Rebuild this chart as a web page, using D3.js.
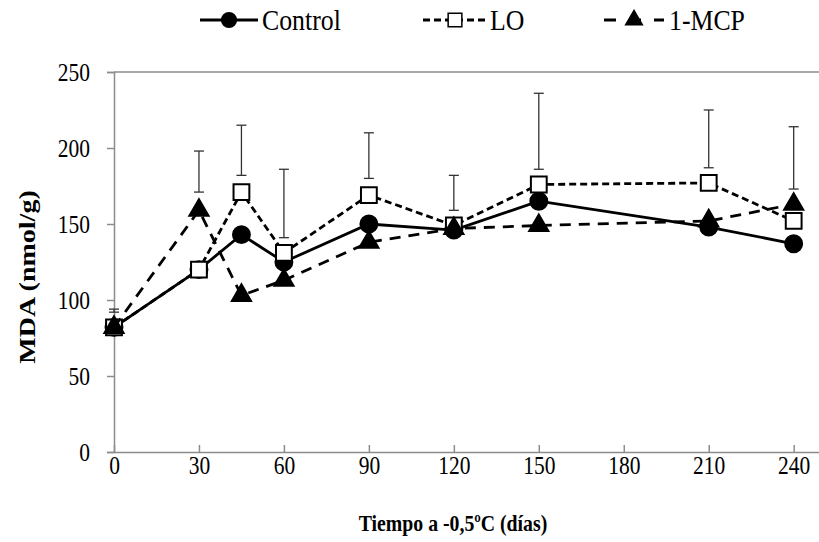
<!DOCTYPE html>
<html>
<head>
<meta charset="utf-8">
<script src="https://cdn.jsdelivr.net/npm/d3@7"></script>
<style>
  html, body { margin: 0; padding: 0; background: #fff; }
</style>
</head>
<body>
<svg id="chart" width="819" height="542"></svg>
<script>
// Storage days at -0.5 °C
const days = [0, 30, 45, 60, 90, 120, 150, 210, 240];
// MDA content (nmol/g) per treatment
const control = [82, 120, 143, 125, 150, 146, 165, 148, 137];
const lo      = [82, 120, 171, 131, 169, 149, 176, 177, 152];
const mcp     = [82, 159, 103, 113, 138, 147, 149, 152, 163];
// Error bar ranges drawn above the points
const errLow  = [92, 171, 182, 141, 180, 159, 186, 187, 173];
const errHigh = [94, 198, 215, 186, 210, 182, 236, 225, 214];
// Axis ticks
const xTicks = [0, 30, 60, 90, 120, 150, 180, 210, 240];
const yTicks = [0, 50, 100, 150, 200, 250];
const seriesNames = ["Control", "LO", "1-MCP"];

const FONT = '"Liberation Serif", "Times New Roman", Times, "DejaVu Serif", serif';
const NARROW = 0.86; // horizontal squeeze applied to the serif text

const svg = d3.select("#chart");
const plotLeft = 114, plotTop = 72, plotBottom = 452, plotRight = 822;

const x = d3.scaleLinear().domain([0, 250]).range([plotLeft, plotRight]);
const y = d3.scaleLinear().domain([0, 250]).range([plotBottom, plotTop]);

const axisColor = "#8c8c8c";

// Frame: top border line
svg.append("line")
  .attr("x1", plotLeft).attr("x2", plotRight)
  .attr("y1", plotTop).attr("y2", plotTop)
  .attr("stroke", axisColor).attr("stroke-width", 1.5);

// Y axis
const yAxis = svg.append("g")
  .attr("transform", `translate(${plotLeft},0)`)
  .call(d3.axisLeft(y).tickValues(yTicks).tickSize(7).tickPadding(0));
yAxis.select(".domain").attr("stroke", axisColor).attr("stroke-width", 1.5);
yAxis.selectAll(".tick line").attr("stroke", axisColor).attr("stroke-width", 1.5);
yAxis.selectAll(".tick text")
  .attr("x", null).attr("dy", "0.34em")
  .attr("transform", `translate(-24,0) scale(${NARROW},1)`)
  .attr("font-family", FONT).attr("font-size", 25).attr("fill", "#000");

// X axis (ticks point into the plot)
const xAxis = svg.append("g")
  .attr("transform", `translate(0,${plotBottom})`)
  .call(d3.axisBottom(x).tickValues(xTicks).tickSizeInner(-7).tickSizeOuter(0).tickPadding(0));
xAxis.select(".domain").attr("stroke", axisColor).attr("stroke-width", 1.5);
xAxis.selectAll(".tick line").attr("stroke", axisColor).attr("stroke-width", 1.5);
xAxis.selectAll(".tick text")
  .attr("y", null).attr("dy", null)
  .attr("transform", `translate(0,22) scale(${NARROW},1)`)
  .attr("font-family", FONT).attr("font-size", 25).attr("fill", "#000");

// Axis titles
svg.append("text")
  .attr("transform", `translate(453,531) scale(${NARROW},1)`)
  .attr("text-anchor", "middle")
  .attr("font-family", FONT).attr("font-size", 23).attr("font-weight", "bold")
  .text("Tiempo a -0,5ºC (días)");

svg.append("text")
  .attr("transform", `translate(35,277) rotate(-90) scale(1,${NARROW})`)
  .attr("text-anchor", "middle")
  .attr("font-family", FONT).attr("font-size", 28).attr("font-weight", "bold")
  .text("MDA (nmol/g)");

// Error bars
const capW = 5;
const eb = svg.append("g").attr("stroke", "#333").attr("stroke-width", 1.3);
days.forEach((d, i) => {
  const cx = x(d);
  eb.append("line").attr("x1", cx).attr("x2", cx).attr("y1", y(errLow[i])).attr("y2", y(errHigh[i]));
  eb.append("line").attr("x1", cx - capW).attr("x2", cx + capW).attr("y1", y(errLow[i])).attr("y2", y(errLow[i]));
  eb.append("line").attr("x1", cx - capW).attr("x2", cx + capW).attr("y1", y(errHigh[i])).attr("y2", y(errHigh[i]));
});

const line = d3.line().x(d => x(d[0])).y(d => y(d[1]));
const styles = [
  { values: control, dash: null, symbol: d3.symbolCircle, size: 225, fill: "#000" },
  { values: lo, dash: "7,4", symbol: d3.symbolSquare, size: 250, fill: "#fff" },
  { values: mcp, dash: "11,8", symbol: d3.symbolTriangle, size: 160, fill: "#000" }
];

styles.forEach(s => {
  const pts = days.map((d, i) => [d, s.values[i]]);
  const g = svg.append("g");
  g.append("path")
    .attr("d", line(pts))
    .attr("fill", "none")
    .attr("stroke", "#000")
    .attr("stroke-width", 2.8)
    .attr("stroke-dasharray", s.dash);
  g.selectAll("path.m").data(pts).join("path")
    .attr("class", "m")
    .attr("transform", p => `translate(${x(p[0])},${y(p[1])})`)
    .attr("d", d3.symbol().type(s.symbol).size(s.size))
    .attr("fill", s.fill)
    .attr("stroke", "#000")
    .attr("stroke-width", 2);
});

// Legend
const legendItems = [
  { x0: 200, x1: 258, tx: 262, dash: null },
  { x0: 423, x1: 487, tx: 490, dash: "7,4" },
  { x0: 604, x1: 664, tx: 669, dash: "12,13" }
];
legendItems.forEach((it, i) => {
  const s = styles[i];
  const ly = 20;
  const g = svg.append("g");
  g.append("line")
    .attr("x1", it.x0).attr("x2", it.x1).attr("y1", ly).attr("y2", ly)
    .attr("stroke", "#000").attr("stroke-width", 2.8)
    .attr("stroke-dasharray", it.dash);
  g.append("path")
    .attr("transform", `translate(${(it.x0 + it.x1) / 2},${ly})`)
    .attr("d", d3.symbol().type(s.symbol).size(s.size * 0.75))
    .attr("fill", s.fill).attr("stroke", "#000").attr("stroke-width", 1.5);
  g.append("text")
    .attr("transform", `translate(${it.tx},${ly + 10}) scale(${NARROW},1)`)
    .attr("font-family", FONT).attr("font-size", 30).attr("fill", "#000")
    .text(seriesNames[i]);
});
</script>
</body>
</html>
